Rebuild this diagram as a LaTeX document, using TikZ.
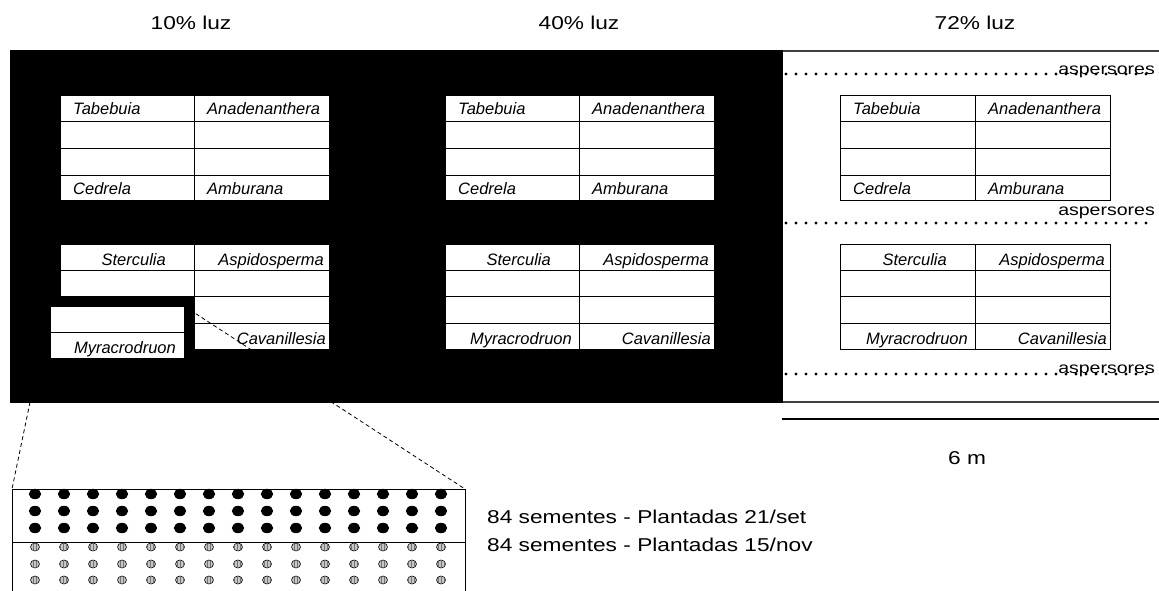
\documentclass[tikz,border=0pt]{standalone}
\usepackage{fontspec}
\usepackage{graphicx}
\setmainfont{Liberation Sans}
\usetikzlibrary{patterns}
\newcommand\wide[2]{{\fontsize{#1}{#1}\selectfont\scalebox{1.22}[1]{#2}}}
\tikzset{
  cell/.style={draw=black, fill=white, line width=0.8pt},
  lab/.style={font=\fontsize{16.5}{18}\selectfont\itshape, inner sep=0pt},
  plain/.style={inner sep=0pt},
  frame/.style={draw=black!75, line width=1.4pt},
  sprinkler/.style={line width=3.3pt, line cap=round, dash pattern=on 0pt off 10pt},
  zoomline/.style={draw=black, line width=0.8pt, dash pattern=on 4pt off 3pt},
  blackseed/.style={fill=black},
  greyseed/.style={draw=black, line width=0.6pt, fill=gray!45, postaction={pattern=vertical lines, pattern color=black!55}}
}
\begin{document}
\begin{tikzpicture}[x=1pt,y=-1pt]
\useasboundingbox (0,0) rectangle (1159,591);
% shaded houses
\fill[black] (10,50) rectangle (783,403);
% open house frame
\draw[frame] (783,51) -- (1159,51);
\draw[frame] (783,402) -- (1159,402);
\draw[black, line width=1.2pt] (782,419) -- (1159,419);
% titles
\node[plain, anchor=base] (t10) at (191,30) {\wide{18.6}{10\% luz}};
\node[plain, anchor=base] (t40) at (579,30) {\wide{18.6}{40\% luz}};
\node[plain, anchor=base] (t72) at (975,30) {\wide{18.6}{72\% luz}};
\node[plain, anchor=base] (sixm) at (967,464) {\wide{18.6}{6 m}};
% sprinklers
\draw[sprinkler] (786,74) -- (1153,74);
\draw[sprinkler] (786,223) -- (1153,223);
\draw[sprinkler] (786,374) -- (1153,374);
\node[plain, anchor=base east] (asp1) at (1155,75) {\wide{16}{aspersores}};
\node[plain, anchor=base east] (asp2) at (1155,215) {\wide{16}{aspersores}};
\node[plain, anchor=base east] (asp3) at (1155,373) {\wide{16}{aspersores}};
% upper tables (all panels)
\foreach \L/\D/\R/\p in {60/194/329/a, 445/579/714/b, 840/975/1110/c}{
  \foreach \ya/\yb in {95/121, 121/148, 148/175, 175/200}{
    \draw[cell] (\L,\ya) rectangle (\D,\yb);
    \draw[cell] (\D,\ya) rectangle (\R,\yb);
  }
  \node[lab, anchor=base west] (tab\p) at ({\L+13},115) {Tabebuia};
  \node[lab, anchor=base west] (ana\p) at ({\D+13},115) {Anadenanthera};
  \node[lab, anchor=base west] (ced\p) at ({\L+13},194) {Cedrela};
  \node[lab, anchor=base west] (amb\p) at ({\D+13},194) {Amburana};
}
% lower tables, panels 2 and 3
\foreach \L/\D/\R/\p in {445/579/714/b, 840/975/1110/c}{
  \foreach \ya/\yb in {244/270, 270/296, 296/323, 323/349}{
    \draw[cell] (\L,\ya) rectangle (\D,\yb);
    \draw[cell] (\D,\ya) rectangle (\R,\yb);
  }
  \node[lab, anchor=base east] (myr\p) at ({\D-7},344) {Myracrodruon};
}
% lower table, panel 1
\foreach \ya/\yb in {244/270, 270/296}{
  \draw[cell] (60,\ya) rectangle (194,\yb);
}
\foreach \ya/\yb in {244/270, 270/296, 296/323, 323/349}{
  \draw[cell] (194,\ya) rectangle (329,\yb);
}
\draw[cell] (50,306) rectangle (184,332);
\draw[cell] (50,332) rectangle (184,358);
\node[lab, anchor=base east] (myra) at (176,353) {Myracrodruon};
\foreach \D/\R/\p in {194/329/a, 579/714/b, 975/1110/c}{
  \node[lab, anchor=base east] (ste\p) at ({\D-28},265) {Sterculia};
  \node[lab, anchor=base east] (asd\p) at ({\R-5},265) {Aspidosperma};
  \node[lab, anchor=base east] (cav\p) at ({\R-3},344) {Cavanillesia};
}
% seed tray
\coordinate (myrTL) at (50,306);
\coordinate (myrTR) at (184,306);
\coordinate (sbTL) at (12,489);
\coordinate (sbTR) at (465,489);
\draw[black, line width=0.9pt] (12,591) -- (sbTL) -- (sbTR) -- (465,591);
\draw[black, line width=0.9pt] (12,542) -- (465,542);
\draw[zoomline] (myrTL) -- (sbTL);
\draw[zoomline] (myrTR) -- (sbTR);
\foreach \k in {0,...,14}{
  \foreach \r in {494,511,528}{
    \fill[blackseed] ({35+29*\k},\r) ellipse [x radius=6.2, y radius=5.2];
  }
  \foreach \r in {547,564,580}{
    \path[greyseed] ({35+29*\k},\r) ellipse [x radius=4.5, y radius=4];
  }
}
\node[plain, anchor=base west] (sem1) at (487,523) {\wide{18.6}{84 sementes - Plantadas 21/set}};
\node[plain, anchor=base west] (sem2) at (487,551) {\wide{18.6}{84 sementes - Plantadas 15/nov}};
\end{tikzpicture}
\end{document}
